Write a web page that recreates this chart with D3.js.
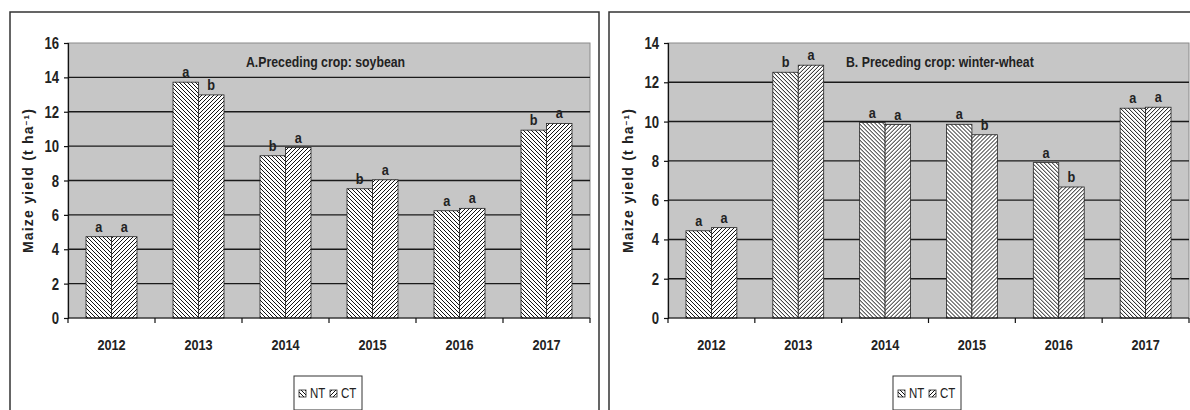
<!DOCTYPE html>
<html>
<head>
<meta charset="utf-8">
<script src="https://cdn.jsdelivr.net/npm/d3@7"></script>
<style>
  body { margin: 0; background: #fff; }
  svg { display: block; }
  text { font-family: "Liberation Sans", Arial, sans-serif; fill: #222; }
</style>
</head>
<body>
<div id="chart"></div>
<script>
// data
const years = ["2012", "2013", "2014", "2015", "2016", "2017"];
const series = ["NT", "CT"];

const soyNT = [4.73, 13.72, 9.44, 7.52, 6.24, 10.93];
const soyCT = [4.73, 12.98, 9.92, 8.04, 6.38, 11.32];
const soyNTLetters = ["a", "a", "b", "b", "a", "b"];
const soyCTLetters = ["a", "b", "a", "a", "a", "a"];
const soyTicks = [0, 2, 4, 6, 8, 10, 12, 14, 16];

const wheatNT = [4.44, 12.51, 9.95, 9.86, 7.91, 10.68];
const wheatCT = [4.60, 12.87, 9.85, 9.33, 6.67, 10.73];
const wheatNTLetters = ["a", "b", "a", "a", "a", "a"];
const wheatCTLetters = ["a", "a", "a", "b", "b", "a"];
const wheatTicks = [0, 2, 4, 6, 8, 10, 12, 14];

const width = 1190, height = 410;
const squeeze = 0.82; // no narrow font installed, so squeeze Liberation Sans

const svg = d3.select("#chart").append("svg")
    .attr("width", width)
    .attr("height", height);

// hatch patterns: NT = "\\\\", CT = "////"
const defs = svg.append("defs");
function hatch(id, d) {
    const p = defs.append("pattern")
        .attr("id", id)
        .attr("patternUnits", "userSpaceOnUse")
        .attr("width", 4)
        .attr("height", 4);
    p.append("rect").attr("width", 4).attr("height", 4).attr("fill", "#fff");
    p.append("path").attr("d", d).attr("stroke", "#111").attr("stroke-width", 1.0);
}
hatch("hatchNT", "M0,0L4,4M-1,3L1,5M3,-1L5,1");
hatch("hatchCT", "M0,4L4,0M-1,1L1,-1M3,5L5,3");
const fills = { NT: "url(#hatchNT)", CT: "url(#hatchCT)" };

// narrow text placed at (x, y)
function narrow(sel, x, y) {
    return sel.attr("transform", (d, i) => {
        const xx = typeof x === "function" ? x(d, i) : x;
        const yy = typeof y === "function" ? y(d, i) : y;
        return `translate(${xx},${yy}) scale(${squeeze},1)`;
    });
}

function drawPanel(o) {
    // outer frame
    svg.append("path")
        .attr("d", `M${o.frame[0]},${height + 5}V${o.frame[1]}H${o.frame[2]}V${height + 5}`)
        .attr("fill", "none")
        .attr("stroke", "#333")
        .attr("stroke-width", 1.5);

    const top = 43, bottom = 318;
    const x = d3.scaleBand()
        .domain(years)
        .range([o.left, o.right])
        .paddingInner(0.414)
        .paddingOuter(0.207);
    const xs = d3.scaleBand().domain(series).range([0, x.bandwidth()]);
    const y = d3.scaleLinear().domain([0, o.ticks[o.ticks.length - 1]]).range([bottom, top]);

    const g = svg.append("g");

    // plot area
    g.append("rect")
        .attr("x", o.left).attr("y", top)
        .attr("width", o.right - o.left).attr("height", bottom - top)
        .attr("fill", "#c6c6c6")
        .attr("stroke", "#8a8a8a")
        .attr("stroke-width", 1);

    // gridlines
    g.selectAll(".grid").data(o.ticks.slice(1, -1)).enter().append("line")
        .attr("x1", o.left).attr("x2", o.right)
        .attr("y1", d => y(d)).attr("y2", d => y(d))
        .attr("stroke", "#1a1a1a")
        .attr("stroke-width", 1.4);

    // bars
    const rows = (d, i) => series.map(s => ({ s, v: o.values[s][i], l: o.letters[s][i] }));
    const groups = g.selectAll(".yr").data(years).enter().append("g")
        .attr("transform", d => `translate(${x(d)},0)`);
    groups.selectAll("rect")
        .data(rows)
        .enter().append("rect")
        .attr("x", d => xs(d.s))
        .attr("y", d => y(d.v))
        .attr("width", xs.bandwidth())
        .attr("height", d => bottom - y(d.v))
        .attr("fill", d => fills[d.s])
        .attr("stroke", "#222")
        .attr("stroke-width", 0.8);
    narrow(groups.selectAll("text").data(rows).enter().append("text"),
            d => xs(d.s) + xs.bandwidth() / 2, d => y(d.v) - 5)
        .attr("text-anchor", "middle")
        .attr("font-size", 15.5)
        .attr("font-weight", "bold")
        .text(d => d.l);

    // y axis
    const ya = g.append("g")
        .attr("transform", `translate(${o.left},0)`)
        .call(d3.axisLeft(y).tickValues(o.ticks).tickSize(4).tickPadding(5));
    ya.select(".domain").attr("stroke", "#111").attr("stroke-width", 1.2);
    ya.selectAll(".tick line").attr("stroke", "#111").attr("stroke-width", 1.2);
    ya.selectAll("text")
        .attr("x", null)
        .attr("dy", null)
        .attr("transform", `translate(-9,5.5) scale(${squeeze},1)`)
        .attr("font-size", 16)
        .attr("font-weight", "bold")
        .attr("fill", "#222");

    // x axis: ticks between categories
    const bounds = years.map(d => x(d) - x.step() * x.paddingOuter()).concat([o.right]);
    g.append("line")
        .attr("x1", o.left).attr("x2", o.right)
        .attr("y1", bottom).attr("y2", bottom)
        .attr("stroke", "#111").attr("stroke-width", 1.2);
    g.selectAll(".xt").data(bounds).enter().append("line")
        .attr("x1", d => d).attr("x2", d => d)
        .attr("y1", bottom).attr("y2", bottom + 5)
        .attr("stroke", "#111").attr("stroke-width", 1.2);
    narrow(g.selectAll(".xl").data(years).enter().append("text"),
            d => x(d) + x.bandwidth() / 2, 350)
        .attr("text-anchor", "middle")
        .attr("font-size", 15.5)
        .attr("font-weight", "bold")
        .text(d => d);

    // y label
    const yl = g.append("text")
        .attr("transform", `translate(${o.left - 35},${(top + bottom) / 2}) rotate(-90)`)
        .attr("text-anchor", "middle")
        .attr("font-size", 14)
        .attr("font-weight", "bold")
        .attr("letter-spacing", 1.2);
    yl.append("tspan").text("Maize yield (t ha");
    yl.append("tspan").attr("baseline-shift", "super").attr("font-size", 8).text("\u22121");
    yl.append("tspan").text(")");

    // title
    narrow(g.append("text"), o.titleX, 67)
        .attr("font-size", 15)
        .attr("font-weight", "bold")
        .text(o.title);

    // legend
    const lg = g.append("g").attr("transform", `translate(${o.legendX},376)`);
    lg.append("rect")
        .attr("width", 68).attr("height", 34)
        .attr("fill", "#fff").attr("stroke", "#333").attr("stroke-width", 1);
    const items = lg.selectAll(".li").data(series).enter().append("g")
        .attr("transform", (d, i) => `translate(${5 + i * 31},0)`);
    items.append("rect")
        .attr("y", 14).attr("width", 7).attr("height", 7)
        .attr("fill", d => fills[d])
        .attr("stroke", "#222").attr("stroke-width", 0.8);
    narrow(items.append("text"), 11, 22)
        .attr("font-size", 14)
        .text(d => d);
}

drawPanel({
    frame: [10, 12, 599],
    left: 68, right: 590,
    ticks: soyTicks,
    values: { NT: soyNT, CT: soyCT },
    letters: { NT: soyNTLetters, CT: soyCTLetters },
    title: "A.Preceding crop: soybean",
    titleX: 246,
    legendX: 294
});

drawPanel({
    frame: [609, 12, 1195],
    left: 668, right: 1189,
    ticks: wheatTicks,
    values: { NT: wheatNT, CT: wheatCT },
    letters: { NT: wheatNTLetters, CT: wheatCTLetters },
    title: "B. Preceding crop: winter-wheat",
    titleX: 846,
    legendX: 893
});
</script>
</body>
</html>
